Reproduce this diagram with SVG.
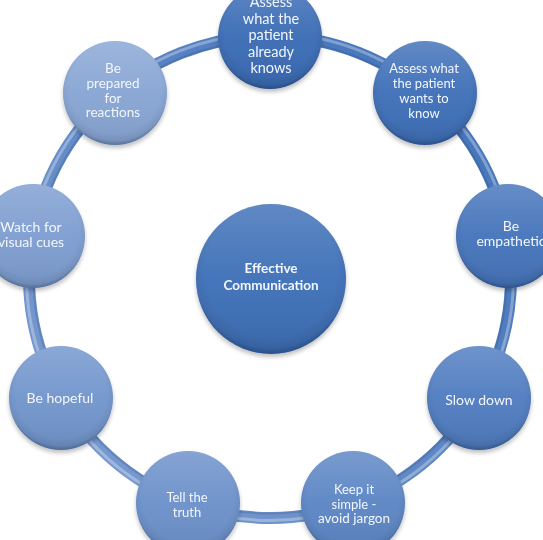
<svg xmlns="http://www.w3.org/2000/svg" width="543" height="540" viewBox="0 0 543 540">
<defs>
<style>
.lbl{font-family:Lato,"Liberation Sans",sans-serif;fill:#f3f6fc;text-anchor:middle}
.b{font-weight:bold}
.rim{fill:url(#bevel)}
.shine{fill:url(#shine)}
</style>
<linearGradient id="ringg" gradientUnits="userSpaceOnUse" x1="520" y1="60" x2="20" y2="500">
<stop offset="0" stop-color="#3f70b8"/>
<stop offset="1" stop-color="#7f9fd2"/>
</linearGradient>
<radialGradient id="bevel" cx="0.5" cy="0.45" r="0.55">
<stop offset="0.8" stop-color="#000" stop-opacity="0"/>
<stop offset="0.93" stop-color="#000" stop-opacity="0.06"/>
<stop offset="1" stop-color="#0a1f45" stop-opacity="0.3"/>
</radialGradient>
<linearGradient id="shine" x1="0" y1="0" x2="0" y2="1">
<stop offset="0" stop-color="#fff" stop-opacity="0.18"/>
<stop offset="0.5" stop-color="#fff" stop-opacity="0.04"/>
<stop offset="1" stop-color="#000" stop-opacity="0.08"/>
</linearGradient>
<filter id="sh" x="-20%" y="-20%" width="140%" height="150%">
<feGaussianBlur in="SourceAlpha" stdDeviation="2"/>
<feOffset dx="0" dy="3" result="o"/>
<feComponentTransfer><feFuncA type="linear" slope="0.25"/></feComponentTransfer>
<feMerge><feMergeNode/><feMergeNode in="SourceGraphic"/></feMerge>
</filter>
</defs>
<rect width="543" height="540" fill="#fff"/>
<g id="connectors">
<circle cx="270" cy="277" r="241" fill="none" stroke="url(#ringg)" stroke-width="12"/>
<circle cx="270" cy="277" r="243.5" fill="none" stroke="#ffffff" stroke-opacity="0.3" stroke-width="3"/>
<circle cx="270" cy="277" r="236.5" fill="none" stroke="#1d3f75" stroke-opacity="0.2" stroke-width="2"/>
</g>
<g id="center" filter="url(#sh)">
<circle cx="271" cy="279" r="75" fill="#3d6fb7"/>
<circle cx="271" cy="279" r="75" class="shine"/>
<circle cx="271" cy="279" r="75" class="rim"/>
<text class="lbl b" font-size="13.5"><tspan x="271" y="273">Effective</tspan><tspan x="271" y="290">Communication</tspan></text>
</g>
<g id="n0" filter="url(#sh)">
<circle cx="270" cy="37" r="52" fill="#3a6bb5"/>
<circle cx="270" cy="37" r="52" class="shine"/>
<circle cx="270" cy="37" r="52" class="rim"/>
<text class="lbl" font-size="14.5"><tspan x="271" y="7">Assess</tspan><tspan x="271" y="23.5">what the</tspan><tspan x="271" y="40">patient</tspan><tspan x="271" y="56.5">already</tspan><tspan x="271" y="73">knows</tspan></text>
</g>
<g id="n1" filter="url(#sh)">
<circle cx="425" cy="93" r="52" fill="#3e6fb8"/>
<circle cx="425" cy="93" r="52" class="shine"/>
<circle cx="425" cy="93" r="52" class="rim"/>
<text class="lbl" font-size="13"><tspan x="424" y="73">Assess what</tspan><tspan x="424" y="88">the patient</tspan><tspan x="424" y="103">wants to</tspan><tspan x="424" y="117.5">know</tspan></text>
</g>
<g id="n2" filter="url(#sh)">
<circle cx="508" cy="236" r="52" fill="#4574bb"/>
<circle cx="508" cy="236" r="52" class="shine"/>
<circle cx="508" cy="236" r="52" class="rim"/>
<text class="lbl" font-size="14"><tspan x="511" y="231">Be</tspan><tspan x="511" y="246">empathetic</tspan></text>
</g>
<g id="n3" filter="url(#sh)">
<circle cx="479" cy="398" r="52" fill="#4f7cc0"/>
<circle cx="479" cy="398" r="52" class="shine"/>
<circle cx="479" cy="398" r="52" class="rim"/>
<text class="lbl" font-size="14" x="479" y="405">Slow  down</text>
</g>
<g id="n4" filter="url(#sh)">
<circle cx="353" cy="503" r="52" fill="#5b85c4"/>
<circle cx="353" cy="503" r="52" class="shine"/>
<circle cx="353" cy="503" r="52" class="rim"/>
<text class="lbl" font-size="13"><tspan x="354" y="494">Keep it</tspan><tspan x="354" y="508.5">simple -</tspan><tspan x="354" y="523" font-size="13.5">avoid jargon</tspan></text>
</g>
<g id="n5" filter="url(#sh)">
<circle cx="188" cy="503" r="52" fill="#6b90ca"/>
<circle cx="188" cy="503" r="52" class="shine"/>
<circle cx="188" cy="503" r="52" class="rim"/>
<text class="lbl" font-size="13"><tspan x="187" y="502">Tell the</tspan><tspan x="187" y="516.5">truth</tspan></text>
</g>
<g id="n6" filter="url(#sh)">
<circle cx="61" cy="398" r="52" fill="#7195cc"/>
<circle cx="61" cy="398" r="52" class="shine"/>
<circle cx="61" cy="398" r="52" class="rim"/>
<text class="lbl" font-size="14" x="60" y="403">Be hopeful</text>
</g>
<g id="n7" filter="url(#sh)">
<circle cx="33" cy="236" r="52" fill="#7d9dd0"/>
<circle cx="33" cy="236" r="52" class="shine"/>
<circle cx="33" cy="236" r="52" class="rim"/>
<text class="lbl" font-size="14"><tspan x="31" y="232">Watch for</tspan><tspan x="31" y="247">visual cues</tspan></text>
</g>
<g id="n8" filter="url(#sh)">
<circle cx="115" cy="93" r="52" fill="#87a5d4"/>
<circle cx="115" cy="93" r="52" class="shine"/>
<circle cx="115" cy="93" r="52" class="rim"/>
<text class="lbl" font-size="13.5"><tspan x="113" y="73">Be</tspan><tspan x="113" y="88">prepared</tspan><tspan x="113" y="102.5">for</tspan><tspan x="113" y="117">reactions</tspan></text>
</g>
</svg>
